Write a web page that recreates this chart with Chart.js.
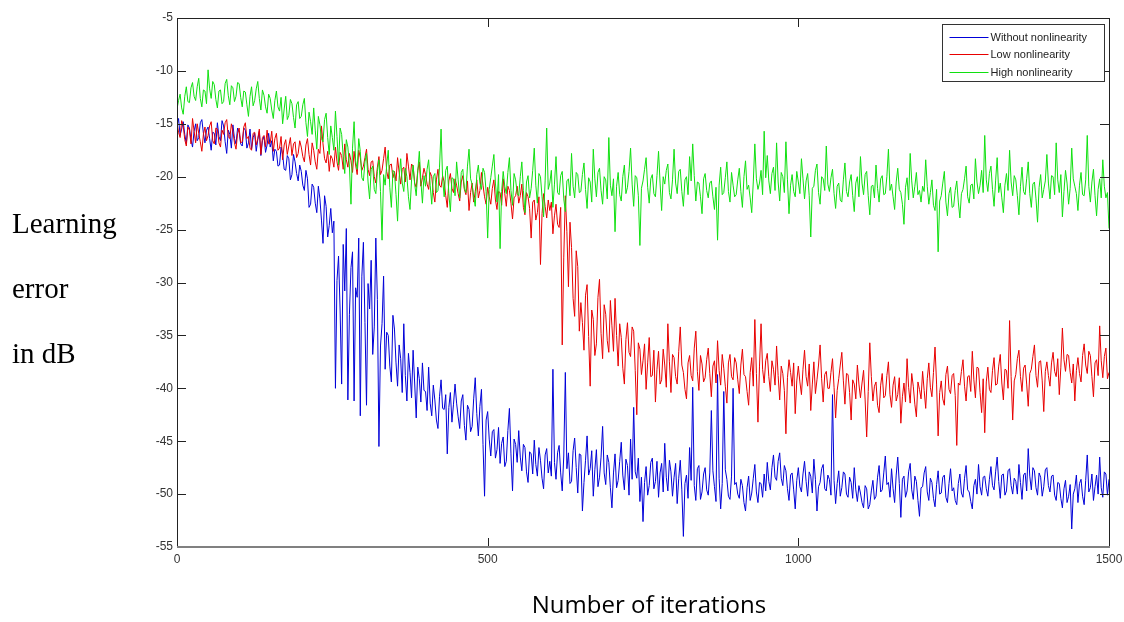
<!DOCTYPE html>
<html>
<head>
<meta charset="utf-8">
<script src="https://cdn.jsdelivr.net/npm/chart.js@4"></script>
<style>
body{margin:0;background:#fff}
#wrap{position:relative;width:1124px;height:622px}
#chart{position:absolute;left:0;top:0}
.ytitle{position:absolute;left:12px;font:29px "Liberation Serif","Times New Roman",serif;line-height:29px;color:#000}
#xtitle{position:absolute;left:449px;width:400px;top:592px;text-align:center;font:24px "Open Sans",sans-serif;line-height:24px;color:#000}
</style>
</head>
<body>
<div id="wrap">
<canvas id="chart" width="1124" height="622"></canvas>
<div class="ytitle" style="top:209px">Learning</div>
<div class="ytitle" style="top:274px">error</div>
<div class="ytitle" style="top:339px">in dB</div>
<div id="xtitle">Number of iterations</div>
</div>
<script>

// one value every STEP iterations
const STEP=2.5

const seriesNames=["Without nonlinearity","Low nonlinearity","High nonlinearity"]
const seriesColors=["#0000d8","#e80000","#10e010"]

const withoutNL=[
-15.2,-14.5,-16.1,-15.5,-14.8,-16.0,-16.9,-15.1,-15.4,-16.5,-17.2,-15.7,-15.0,-16.6,-16.3,-14.9,-14.6,-15.9,-16.8,-15.6,
-15.3,-16.4,-17.5,-15.8,-15.9,-17.0,-14.9,-16.2,-16.6,-14.7,-15.2,-16.7,-17.8,-15.6,-16.0,-17.3,-15.1,-16.4,-16.9,-15.4,
-15.8,-16.9,-17.1,-15.4,-15.6,-17.3,-16.8,-15.5,-17.4,-16.3,-15.9,-17.6,-16.5,-15.7,-18.0,-16.6,-16.2,-17.7,-17.0,-15.9,
-17.2,-16.6,-18.5,-17.4,-17.6,-19.0,-18.9,-17.2,-17.9,-19.3,-19.4,-18.0,-18.3,-20.3,-19.8,-17.9,-18.6,-19.7,-20.4,-18.9,
-19.5,-20.8,-21.3,-19.4,-20.2,-22.9,-22.6,-20.7,-21.0,-22.5,-23.4,-20.9,-22.1,-24.1,-26.3,-21.8,-22.8,-25.7,-24.6,-23.0,
-25.3,-24.2,-40.0,-29.8,-27.5,-32.6,-39.6,-26.4,-30.8,-24.9,-41.1,-33.0,-28.6,-27.1,-41.2,-30.5,-31.4,-25.8,-42.6,-29.4,
-26.2,-33.8,-41.6,-30.1,-32.5,-27.9,-36.8,-34.2,-25.8,-31.6,-45.5,-36.0,-33.9,-29.4,-38.2,-34.7,-35.0,-37.9,-39.4,-33.1,
-34.4,-37.6,-39.8,-35.9,-37.2,-40.4,-33.9,-38.8,-41.2,-36.7,-38.5,-40.9,-36.4,-39.5,-42.8,-38.0,-39.1,-41.3,-37.6,-40.2,
-40.3,-42.1,-38.0,-41.4,-42.6,-39.7,-41.1,-43.0,-43.8,-40.8,-39.2,-41.9,-42.0,-40.6,-46.2,-41.8,-40.4,-43.2,-41.5,-39.6,
-41.4,-42.7,-43.8,-41.2,-40.6,-43.5,-44.9,-41.6,-42.0,-44.1,-43.6,-41.0,-39.0,-42.4,-44.5,-41.7,-40.1,-45.3,-50.2,-43.0,
-42.2,-44.8,-46.4,-44.1,-43.9,-46.6,-45.8,-43.7,-47.1,-45.2,-44.6,-47.4,-46.9,-44.0,-41.9,-46.2,-49.7,-44.8,-45.3,-47.0,
-44.0,-46.5,-47.8,-45.3,-45.6,-47.9,-48.9,-46.0,-46.2,-48.1,-44.9,-47.2,-48.3,-45.6,-46.8,-48.5,-49.5,-46.3,-45.7,-48.0,
-46.9,-48.3,-38.2,-47.0,-48.6,-46.1,-45.4,-48.0,-49.7,-46.4,-38.5,-47.6,-46.1,-49.0,-48.8,-45.9,-44.7,-47.5,-49.9,-46.2,
-46.3,-51.6,-48.9,-46.8,-44.5,-48.2,-47.6,-45.9,-50.2,-47.7,-45.8,-49.3,-48.4,-46.5,-43.6,-48.0,-49.1,-46.3,-47.0,-49.4,
-51.3,-48.0,-46.2,-49.4,-48.7,-46.9,-45.1,-48.2,-49.6,-46.7,-47.3,-50.1,-44.8,-48.6,-41.8,-47.9,-48.5,-46.6,-50.7,-48.4,
-52.6,-48.9,-47.4,-50.1,-49.2,-47.0,-46.6,-49.5,-48.8,-46.9,-50.3,-48.0,-47.1,-49.8,-45.2,-48.4,-49.7,-46.8,-47.9,-50.2,
-48.4,-47.1,-50.9,-48.5,-46.8,-49.6,-54.0,-49.0,-48.2,-50.4,-45.6,-48.7,-39.9,-49.2,-50.6,-47.6,-47.3,-50.5,-49.8,-48.1,
-47.5,-49.6,-50.1,-48.0,-42.1,-47.8,-49.3,-50.7,-38.7,-48.5,-51.4,-49.0,-40.3,-47.7,-48.6,-50.2,-50.5,-48.3,-40.0,-49.1,
-48.9,-50.0,-50.4,-48.6,-49.2,-50.8,-51.6,-49.4,-48.3,-50.6,-49.9,-48.5,-47.2,-49.8,-50.8,-48.9,-49.0,-50.3,-48.1,-49.7,
-47.0,-48.8,-49.6,-47.5,-46.3,-48.4,-48.7,-46.9,-46.1,-48.5,-49.2,-47.3,-47.8,-49.5,-50.6,-48.2,-48.0,-49.6,-51.4,-48.7,
-47.5,-49.3,-49.8,-48.1,-46.9,-48.8,-50.2,-47.9,-48.3,-49.9,-46.7,-48.6,-51.6,-49.3,-48.9,-47.6,-47.2,-49.5,-49.7,-48.2,
-48.6,-50.1,-40.6,-48.7,-50.9,-49.0,-47.8,-50.2,-49.4,-47.9,-48.1,-50.0,-50.3,-48.4,-48.9,-50.4,-47.5,-49.6,-50.7,-49.2,
-49.9,-50.8,-51.3,-49.2,-49.5,-51.4,-51.0,-49.7,-48.7,-50.5,-50.2,-48.4,-47.3,-49.8,-49.6,-48.0,-46.4,-49.1,-48.9,-50.3,
-47.6,-49.5,-50.8,-48.2,-46.5,-49.0,-52.2,-48.6,-48.3,-50.3,-49.7,-47.9,-47.1,-49.6,-50.5,-48.3,-48.8,-50.6,-52.1,-49.4,
-49.3,-48.0,-47.4,-49.8,-50.6,-48.5,-48.9,-50.4,-51.2,-49.1,-47.8,-50.0,-49.9,-48.4,-48.2,-50.3,-50.8,-49.0,-47.6,-49.7,
-49.4,-50.6,-51.0,-49.0,-48.1,-49.9,-50.3,-48.5,-47.3,-49.6,-49.8,-50.7,-51.4,-49.2,-48.6,-50.0,-47.2,-49.3,-50.1,-48.4,
-48.3,-49.5,-50.2,-48.6,-47.4,-49.2,-49.6,-47.9,-46.5,-48.8,-50.4,-48.2,-48.1,-50.1,-49.7,-47.8,-47.6,-49.2,-50.0,-48.5,
-48.8,-50.0,-47.2,-48.9,-50.5,-48.2,-48.0,-49.7,-45.7,-48.3,-49.6,-47.5,-47.8,-49.4,-50.1,-48.0,-48.4,-50.2,-49.3,-47.7,
-47.5,-49.2,-49.8,-48.3,-48.2,-50.1,-50.6,-48.9,-49.0,-50.4,-51.3,-49.5,-48.7,-50.8,-50.2,-49.1,-53.3,-50.0,-49.5,-48.2,
-50.8,-49.0,-48.6,-50.2,-51.0,-48.7,-46.3,-49.8,-49.4,-48.1,-50.6,-49.3,-48.2,-50.0,-46.5,-49.4,-50.3,-47.9,-48.1,-50.1,-48.6
]

const lowNL=[
-14.9,-15.8,-16.3,-14.7,-15.2,-16.5,-17.1,-15.3,-15.6,-16.9,-14.5,-15.7,-16.8,-15.0,-15.9,-16.7,-17.6,-16.0,-15.3,-16.6,
-16.1,-15.2,-14.8,-16.6,-16.9,-15.4,-15.5,-16.8,-17.2,-15.6,-16.0,-14.9,-14.6,-16.2,-16.4,-15.0,-15.7,-16.8,-17.4,-15.9,
-15.4,-16.8,-16.7,-15.3,-14.9,-16.4,-16.2,-17.3,-17.5,-15.9,-15.8,-17.0,-16.4,-15.5,-17.9,-16.3,-16.1,-17.2,-15.6,-16.9,
-16.8,-15.7,-17.6,-16.4,-15.9,-17.5,-17.3,-16.2,-18.4,-17.0,-16.5,-17.9,-17.1,-16.3,-18.0,-16.9,-16.7,-18.2,-17.8,-16.6,
-17.2,-18.1,-18.6,-17.0,-16.4,-17.9,-18.9,-16.8,-17.5,-18.6,-19.3,-17.4,-17.8,-15.2,-16.9,-18.3,-18.7,-17.6,-19.5,-18.0,
-18.3,-19.1,-17.2,-18.6,-19.4,-17.7,-18.0,-19.3,-16.9,-18.4,-19.1,-17.8,-18.5,-19.6,-17.6,-18.9,-19.8,-17.5,-18.2,-19.4,
-19.0,-18.2,-17.4,-19.3,-19.9,-18.6,-18.5,-20.0,-20.6,-19.1,-18.1,-19.8,-19.4,-18.3,-17.2,-19.5,-20.2,-18.9,-18.8,-20.1,
-19.5,-20.4,-18.2,-19.6,-20.7,-19.3,-19.1,-20.5,-17.8,-19.0,-20.3,-18.8,-19.0,-20.6,-21.0,-19.4,-18.6,-20.9,-20.1,-19.2,
-19.8,-20.7,-21.2,-19.6,-20.0,-21.5,-22.4,-20.3,-19.3,-20.8,-21.0,-19.9,-20.5,-21.8,-22.9,-20.4,-19.7,-21.1,-21.5,-20.2,
-20.8,-21.6,-22.3,-20.5,-19.9,-21.2,-21.7,-20.4,-23.2,-21.5,-20.6,-22.4,-21.4,-20.3,-22.0,-21.3,-19.6,-20.8,-21.9,-22.6,
-21.0,-21.9,-22.6,-21.1,-20.3,-22.2,-23.1,-21.4,-21.5,-22.7,-20.2,-21.6,-22.8,-20.9,-21.3,-22.5,-24.0,-22.0,-21.8,-20.9,
-22.5,-21.8,-20.7,-22.9,-23.6,-21.5,-21.9,-23.0,-25.8,-22.4,-22.2,-24.1,-23.4,-21.9,-28.3,-23.5,-21.6,-22.8,-23.9,-22.2,
-23.2,-22.4,-25.4,-23.7,-22.6,-24.5,-24.8,-22.9,-35.9,-27.6,-21.8,-25.2,-30.4,-24.3,-26.7,-31.5,-33.2,-27.0,-28.5,-34.6,
-31.9,-33.8,-36.4,-31.2,-30.2,-35.1,-39.8,-32.6,-33.5,-36.9,-35.8,-31.4,-29.7,-34.8,-37.2,-32.1,-33.0,-35.5,-36.6,-31.7,
-34.1,-36.5,-31.5,-35.0,-37.9,-33.9,-35.2,-38.1,-39.6,-35.4,-33.8,-36.6,-37.0,-34.2,-34.6,-38.3,-42.5,-35.7,-36.3,-38.7,
-37.4,-35.8,-40.1,-37.6,-35.2,-38.9,-38.8,-36.4,-41.3,-38.2,-36.5,-39.6,-39.2,-36.3,-37.8,-39.9,-33.9,-37.5,-40.4,-36.8,
-37.1,-38.9,-39.6,-36.5,-34.2,-37.8,-38.5,-40.1,-41.0,-37.6,-36.9,-38.8,-39.3,-36.2,-34.6,-38.4,-40.2,-36.9,-37.7,-39.4,
-39.0,-37.3,-36.2,-38.6,-40.8,-37.9,-37.4,-39.5,-35.5,-38.3,-39.7,-36.8,-38.1,-39.8,-41.4,-37.6,-36.8,-38.9,-39.2,-37.1,
-37.6,-39.2,-40.5,-37.8,-36.3,-38.7,-38.9,-40.3,-41.6,-38.5,-37.1,-39.8,-33.5,-38.6,-43.2,-37.9,-33.9,-38.2,-39.5,-37.4,
-36.7,-38.9,-40.3,-37.4,-38.2,-39.7,-36.0,-38.8,-41.1,-37.9,-38.6,-40.2,-44.3,-39.0,-37.3,-38.5,-39.8,-37.6,-42.4,-39.3,
-37.9,-39.4,-40.6,-38.2,-36.4,-38.9,-39.8,-37.7,-42.1,-39.6,-37.5,-40.5,-39.2,-37.8,-35.9,-39.1,-41.3,-38.7,-38.4,-40.0,
-40.0,-38.5,-37.2,-39.9,-42.8,-40.2,-39.1,-37.8,-36.6,-39.3,-41.5,-38.6,-38.7,-40.4,-43.0,-39.2,-39.6,-41.0,-37.8,-39.6,
-40.9,-39.5,-38.3,-41.1,-44.6,-40.3,-35.7,-38.9,-41.2,-39.8,-39.4,-41.6,-42.3,-39.7,-38.6,-40.9,-40.7,-38.8,-37.5,-40.6,
-41.8,-39.7,-38.9,-41.2,-40.6,-39.0,-43.3,-40.8,-39.5,-41.3,-37.2,-39.9,-41.4,-38.6,-39.8,-41.5,-42.7,-39.4,-40.1,-41.0,
-38.4,-40.2,-41.9,-39.1,-37.6,-39.9,-40.8,-38.5,-36.1,-39.6,-44.5,-40.4,-39.3,-41.0,-41.6,-38.7,-37.9,-40.1,-40.5,-38.8,
-38.6,-40.7,-45.4,-39.5,-39.7,-38.4,-37.3,-39.8,-41.2,-38.9,-38.8,-40.3,-36.5,-39.2,-40.9,-38.0,-38.1,-40.4,-42.3,-39.1,
-44.2,-39.4,-38.0,-40.1,-40.4,-38.3,-37.1,-39.7,-39.6,-37.9,-36.8,-39.5,-41.1,-38.2,-38.3,-40.0,-33.6,-38.9,-43.0,-39.3,
-38.7,-37.2,-36.4,-38.9,-40.3,-38.1,-37.8,-39.6,-41.7,-38.6,-38.2,-37.0,-35.9,-38.8,-39.9,-37.5,-37.4,-39.3,-42.2,-38.4,
-37.5,-38.8,-39.8,-37.6,-36.6,-38.4,-38.9,-37.2,-40.6,-38.0,-34.3,-37.3,-38.4,-36.8,-36.9,-38.5,-39.5,-37.7,-41.2,-38.3,
-37.1,-38.6,-39.4,-36.9,-35.8,-37.8,-38.6,-36.5,-36.9,-38.9,-40.8,-37.6,-37.3,-38.8,-34.1,-37.4,-39.0,-37.0,-36.2,-39.1,-38.5
]

const highNL=[
-13.6,-12.8,-12.2,-13.5,-14.1,-12.4,-11.5,-12.9,-13.0,-11.6,-11.1,-12.4,-12.8,-11.5,-10.7,-12.6,-13.4,-11.8,-11.9,-13.1,
-9.9,-11.7,-12.6,-11.0,-11.3,-12.7,-13.5,-11.9,-11.8,-13.1,-12.9,-11.2,-10.8,-12.3,-13.2,-11.4,-11.6,-12.9,-12.4,-11.1,
-11.2,-12.5,-13.4,-11.9,-12.0,-13.2,-14.3,-12.4,-11.5,-13.3,-12.8,-11.7,-11.0,-12.6,-13.7,-11.8,-12.3,-13.4,-14.0,-12.2,
-12.6,-13.7,-14.5,-12.8,-11.9,-13.4,-13.8,-12.5,-15.0,-13.6,-12.4,-14.6,-14.2,-12.7,-13.1,-14.4,-15.4,-13.2,-12.9,-14.5,
-14.3,-13.2,-12.6,-14.9,-16.2,-13.9,-14.8,-16.0,-13.5,-15.6,-17.4,-14.3,-15.1,-16.4,-16.7,-14.6,-14.0,-16.3,-17.9,-15.2,
-16.3,-17.5,-13.8,-16.2,-18.9,-15.4,-16.0,-18.1,-19.7,-16.5,-17.2,-19.0,-22.6,-17.3,-14.8,-18.5,-19.3,-16.4,-17.6,-20.1,
-20.4,-18.6,-17.8,-20.5,-22.1,-19.3,-19.0,-21.2,-21.6,-19.5,-18.4,-21.4,-26.0,-19.8,-20.8,-18.9,-17.5,-21.0,-22.9,-19.4,
-19.6,-21.7,-24.2,-20.1,-18.3,-20.6,-21.4,-19.2,-20.0,-21.9,-23.1,-20.3,-18.9,-20.7,-21.8,-19.5,-17.6,-20.4,-22.5,-19.9,
-20.9,-19.3,-18.4,-20.8,-22.6,-20.0,-19.7,-21.5,-21.3,-19.1,-15.5,-20.2,-21.9,-19.4,-19.0,-21.6,-23.3,-20.1,-20.2,-21.8,
-18.6,-20.3,-22.0,-19.6,-19.3,-21.1,-21.5,-19.0,-17.4,-20.2,-20.7,-21.9,-22.8,-19.8,-18.9,-20.6,-21.2,-19.2,-19.6,-21.4,
-25.8,-21.2,-20.1,-19.0,-17.9,-20.6,-22.4,-19.8,-26.8,-21.4,-19.5,-20.9,-21.6,-19.6,-18.2,-21.3,-22.7,-19.7,-20.3,-21.6,
-21.8,-20.0,-18.6,-21.3,-23.4,-20.5,-19.9,-22.0,-21.1,-19.4,-17.3,-20.8,-22.5,-19.7,-20.0,-21.9,-23.8,-20.4,-15.4,-21.2,
-20.6,-19.4,-22.9,-20.7,-18.1,-21.5,-21.7,-19.9,-19.5,-22.1,-23.3,-20.4,-20.2,-21.8,-17.8,-20.9,-22.0,-19.6,-19.8,-21.5,
-21.4,-19.8,-18.7,-21.2,-23.0,-20.1,-20.5,-22.4,-17.4,-20.2,-21.9,-19.6,-19.2,-21.3,-22.6,-20.0,-20.3,-22.1,-16.3,-20.8,
-21.8,-20.2,-25.2,-20.9,-19.6,-21.7,-22.3,-20.0,-18.9,-21.6,-21.0,-19.5,-17.3,-20.7,-22.8,-19.9,-20.1,-21.8,-26.5,-21.1,
-20.4,-19.3,-18.2,-21.0,-22.5,-20.2,-19.8,-21.6,-21.9,-19.9,-17.6,-20.6,-23.2,-20.0,-20.7,-19.4,-18.8,-21.5,-22.1,-20.3,
-17.4,-20.6,-21.6,-19.5,-19.3,-21.4,-22.8,-20.3,-20.0,-21.7,-18.1,-20.4,-16.9,-19.9,-22.3,-20.5,-20.6,-21.9,-23.5,-20.2,
-19.7,-21.3,-22.0,-20.6,-20.4,-21.9,-23.1,-21.0,-26.0,-20.8,-19.1,-21.7,-21.5,-20.1,-18.6,-21.4,-22.4,-19.6,-20.8,-21.9,
-21.7,-20.3,-19.2,-21.4,-22.9,-20.0,-18.5,-21.2,-20.8,-22.0,-23.4,-20.5,-16.9,-20.2,-21.2,-20.6,-19.4,-21.7,-15.7,-20.1,
-18.0,-20.4,-21.6,-19.7,-19.1,-21.3,-16.8,-20.5,-22.3,-19.6,-20.0,-21.5,-16.7,-20.3,-23.5,-20.8,-19.8,-21.4,-21.9,-19.5,
-20.5,-21.6,-18.3,-20.2,-22.1,-20.4,-19.7,-21.8,-25.7,-21.1,-20.9,-19.4,-18.8,-21.5,-22.6,-20.0,-20.2,-21.3,-17.1,-20.7,
-21.4,-20.1,-19.3,-21.6,-23.0,-20.9,-20.6,-22.2,-22.4,-20.3,-18.7,-21.4,-21.9,-20.5,-19.8,-21.8,-23.3,-20.6,-20.0,-21.9,
-18.1,-20.6,-21.7,-19.8,-19.5,-21.8,-23.6,-20.9,-20.8,-22.0,-18.9,-21.1,-22.4,-20.2,-19.9,-21.7,-21.6,-20.0,-17.4,-21.3,
-20.7,-21.9,-23.1,-20.5,-19.2,-21.2,-21.5,-22.6,-24.5,-21.0,-20.1,-22.2,-17.8,-20.4,-22.0,-20.9,-19.6,-21.7,-21.3,-22.4,
-20.9,-21.4,-18.4,-20.9,-22.6,-21.5,-20.3,-22.7,-23.2,-21.2,-27.1,-22.3,-21.8,-20.6,-19.5,-22.4,-23.7,-21.6,-21.0,-22.9,
-22.8,-21.3,-20.4,-22.4,-23.9,-21.6,-21.2,-20.2,-19.0,-21.9,-22.5,-20.8,-20.7,-22.1,-18.3,-20.5,-21.6,-20.8,-19.4,-21.5,
-16.1,-20.3,-21.4,-19.7,-19.0,-21.2,-22.8,-20.4,-18.2,-21.5,-20.6,-22.0,-23.4,-20.8,-19.7,-21.3,-17.5,-20.5,-21.8,-19.9,
-20.3,-21.8,-23.6,-20.9,-19.1,-21.4,-21.7,-20.2,-18.6,-21.6,-22.9,-20.7,-20.5,-22.1,-24.3,-21.0,-19.8,-22.0,-21.2,-20.4,
-17.9,-20.6,-22.1,-19.9,-20.0,-21.7,-16.8,-20.3,-21.5,-19.8,-23.8,-21.4,-19.4,-20.6,-22.6,-21.1,-17.3,-20.2,-20.9,-21.6,
-23.2,-20.8,-19.6,-21.7,-21.8,-20.3,-16.1,-20.9,-22.4,-20.5,-19.3,-21.8,-23.7,-21.2,-20.2,-22.0,-18.4,-20.9,-22.0,-21.5,-24.9
]

const xMin=0, xMax=1500, xStep=500
const yMin=-55, yMax=-5, yStep=5

const TICK=9

function points(values){
return values.map((v,i)=>({x:i*STEP,y:v}))
}

// matlab style box with inward ticks on all four sides
const boxPlugin={
id:"box",
afterDatasetsDraw(chart){
const ctx=chart.ctx
const a=chart.chartArea
const xs=chart.scales.x
const ys=chart.scales.y
ctx.save()
ctx.lineWidth=1
ctx.strokeStyle="#222"
ctx.beginPath()
xs.ticks.forEach(t=>{
let px=Math.round(xs.getPixelForValue(t.value))+0.5
ctx.moveTo(px,a.bottom)
ctx.lineTo(px,a.bottom-TICK)
ctx.moveTo(px,a.top)
ctx.lineTo(px,a.top+TICK)
})
ys.ticks.forEach(t=>{
let py=Math.round(ys.getPixelForValue(t.value))+0.5
ctx.moveTo(a.left,py)
ctx.lineTo(a.left+TICK,py)
ctx.moveTo(a.right,py)
ctx.lineTo(a.right-TICK,py)
})
ctx.stroke()
ctx.strokeRect(Math.round(a.left)+0.5,Math.round(a.top)+0.5,Math.round(a.right-a.left),Math.round(a.bottom-a.top))
ctx.strokeStyle="#808080"
ctx.lineWidth=2
ctx.beginPath()
ctx.moveTo(a.left,Math.round(a.bottom))
ctx.lineTo(a.right+1,Math.round(a.bottom))
ctx.stroke()
ctx.restore()
}
}

const legendPlugin={
id:"boxLegend",
afterDraw(chart){
const ctx=chart.ctx
const a=chart.chartArea
let w=162, h=57
let left=Math.round(a.right)-5-w+0.5
let top=Math.round(a.top)+6+0.5
ctx.save()
ctx.fillStyle="#fff"
ctx.fillRect(left,top,w,h)
ctx.strokeStyle="#333"
ctx.lineWidth=1
ctx.strokeRect(left,top,w,h)
ctx.font='11px "Liberation Sans", Arial, sans-serif'
ctx.textBaseline="middle"
seriesNames.forEach((name,i)=>{
let y=Math.round(top+12+i*17.5)+0.5
ctx.strokeStyle=seriesColors[i]
ctx.beginPath()
ctx.moveTo(left+7,y)
ctx.lineTo(left+46,y)
ctx.stroke()
ctx.fillStyle="#222"
ctx.fillText(name,left+48,y)
})
ctx.restore()
}
}

const allSeries=[withoutNL,lowNL,highNL]

new Chart(document.getElementById("chart"),{
type:"line",
data:{
datasets:allSeries.map((s,i)=>({
label:seriesNames[i],
data:points(s),
borderColor:seriesColors[i],
borderWidth:1,
pointRadius:0,
tension:0,
fill:false,
order:3-i
}))
},
options:{
responsive:false,
animation:false,
devicePixelRatio:1,
layout:{padding:{left:0,top:18,right:15,bottom:0}},
plugins:{legend:{display:false},tooltip:{enabled:false}},
scales:{
x:{
type:"linear",
min:xMin,max:xMax,
grid:{display:false,drawTicks:false},
border:{display:false},
ticks:{stepSize:xStep,padding:5,color:"#333",font:{family:"Liberation Sans",size:12},maxRotation:0,callback:v=>String(v)},
afterFit(scale){
scale.height=75
scale.paddingLeft=0
scale.paddingRight=0
}
},
y:{
min:yMin,max:yMax,
grid:{display:false,drawTicks:false},
border:{display:false},
ticks:{stepSize:yStep,padding:4,color:"#333",font:{family:"Liberation Sans",size:12},callback:v=>String(v)},
afterFit(scale){
scale.width=177
scale.paddingTop=0
scale.paddingBottom=0
}
}
}
},
plugins:[boxPlugin,legendPlugin]
})

</script>
</body>
</html>
